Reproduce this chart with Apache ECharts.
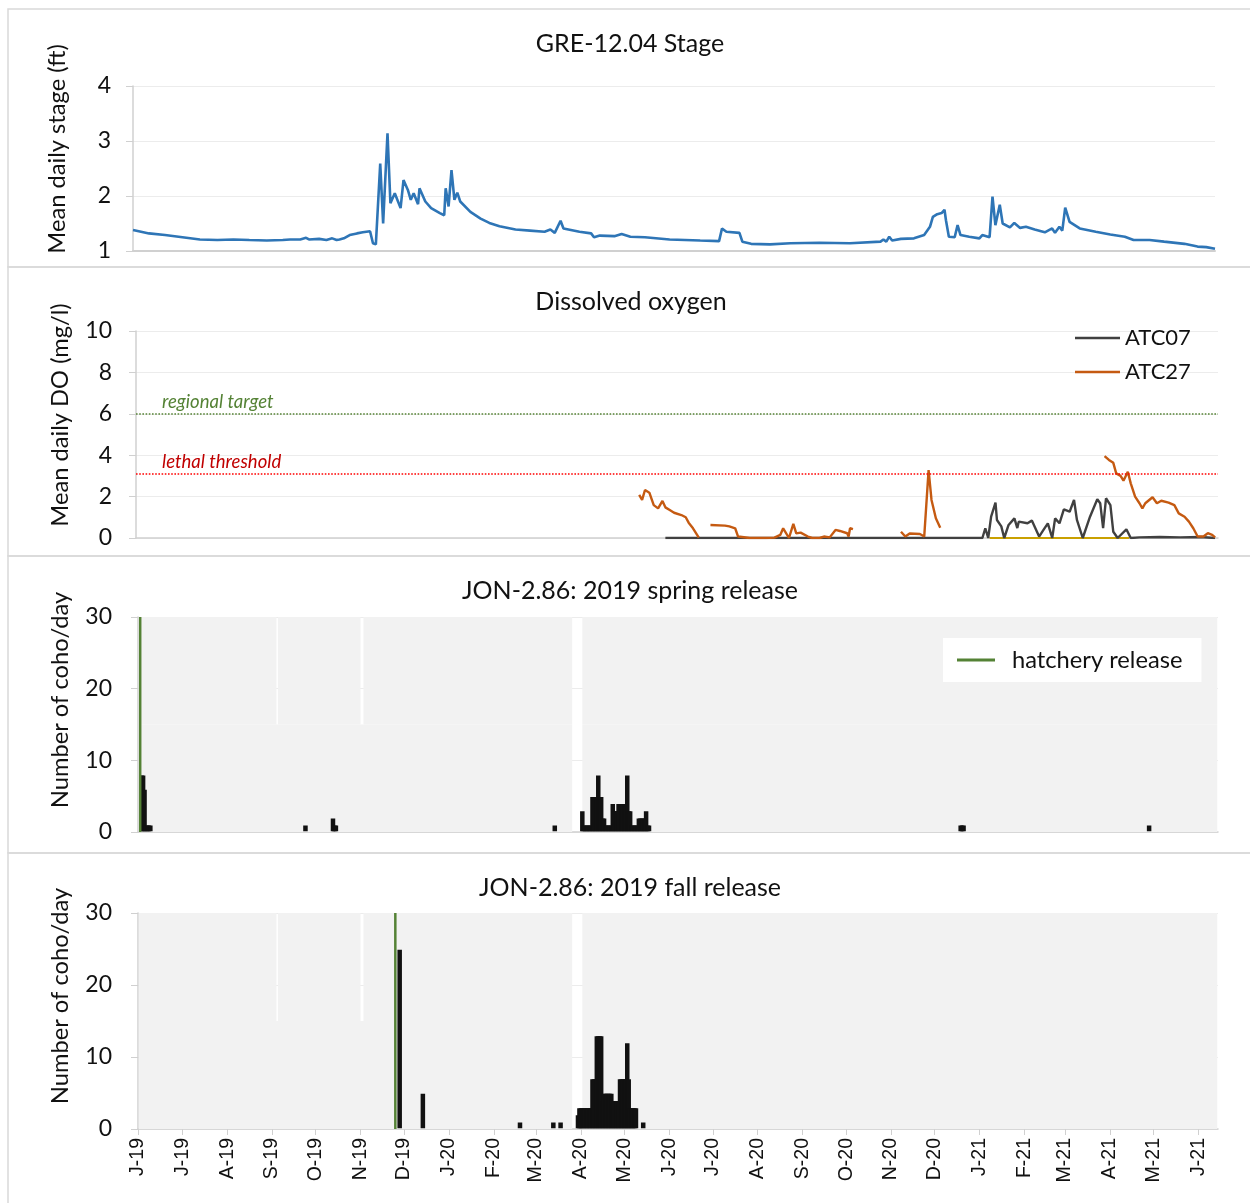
<!DOCTYPE html>
<html>
<head>
<meta charset="utf-8">
<script src="https://cdn.jsdelivr.net/npm/echarts@6/dist/echarts.min.js"></script>
<style>
  html, body { margin: 0; padding: 0; background: #ffffff; }
  #chart { width: 1250px; height: 1203px; }
</style>
</head>
<body>
<div id="chart"></div>
<script>
// Shared date range of all four panels
const X_MIN = '2019-06-01';
const X_MAX = '2021-06-14';
const monthLetters = ['J', 'F', 'M', 'A', 'M', 'J', 'J', 'A', 'S', 'O', 'N', 'D'];

// GRE-12.04 mean daily stage (ft)
const stage = [
  ['2019-06-01', 1.38], ['2019-06-12', 1.32], ['2019-06-23', 1.29], ['2019-07-05', 1.25], ['2019-07-17', 1.21],
  ['2019-07-29', 1.20], ['2019-08-09', 1.21], ['2019-08-20', 1.20], ['2019-09-01', 1.19], ['2019-09-12', 1.20],
  ['2019-09-17', 1.21], ['2019-09-24', 1.21], ['2019-09-28', 1.24], ['2019-09-30', 1.21], ['2019-10-07', 1.22],
  ['2019-10-12', 1.20], ['2019-10-16', 1.23], ['2019-10-19', 1.20], ['2019-10-21', 1.21], ['2019-10-24', 1.23],
  ['2019-10-28', 1.29], ['2019-11-02', 1.32], ['2019-11-06', 1.34], ['2019-11-11', 1.36], ['2019-11-13', 1.14],
  ['2019-11-15', 1.12], ['2019-11-18', 2.59], ['2019-11-20', 1.50], ['2019-11-21', 1.47], ['2019-11-23', 3.14],
  ['2019-11-25', 1.87], ['2019-11-28', 2.05], ['2019-12-02', 1.78], ['2019-12-04', 2.29], ['2019-12-07', 2.11],
  ['2019-12-09', 1.93], ['2019-12-11', 2.05], ['2019-12-14', 1.85], ['2019-12-15', 2.14], ['2019-12-19', 1.90],
  ['2019-12-23', 1.78], ['2019-12-29', 1.69], ['2020-01-01', 1.65], ['2020-01-02', 2.14], ['2020-01-04', 1.81],
  ['2020-01-06', 2.47], ['2020-01-08', 1.93], ['2020-01-10', 2.06], ['2020-01-12', 1.90], ['2020-01-19', 1.71],
  ['2020-01-26', 1.59], ['2020-02-01', 1.51], ['2020-02-08', 1.45], ['2020-02-19', 1.39], ['2020-02-29', 1.37],
  ['2020-03-10', 1.35], ['2020-03-14', 1.39], ['2020-03-17', 1.33], ['2020-03-21', 1.55], ['2020-03-23', 1.41],
  ['2020-04-03', 1.35], ['2020-04-11', 1.32], ['2020-04-13', 1.25], ['2020-04-17', 1.28], ['2020-04-27', 1.27],
  ['2020-05-02', 1.31], ['2020-05-08', 1.26], ['2020-05-18', 1.25], ['2020-06-04', 1.21], ['2020-06-25', 1.19],
  ['2020-07-08', 1.18], ['2020-07-10', 1.41], ['2020-07-13', 1.35], ['2020-07-22', 1.33], ['2020-07-24', 1.17],
  ['2020-07-30', 1.13], ['2020-08-12', 1.12], ['2020-08-26', 1.14], ['2020-09-15', 1.15], ['2020-10-06', 1.14],
  ['2020-10-27', 1.17], ['2020-10-29', 1.21], ['2020-10-31', 1.17], ['2020-11-02', 1.26], ['2020-11-04', 1.19],
  ['2020-11-10', 1.22], ['2020-11-19', 1.23], ['2020-11-26', 1.29], ['2020-11-30', 1.44], ['2020-12-02', 1.62],
  ['2020-12-05', 1.67], ['2020-12-08', 1.69], ['2020-12-10', 1.75], ['2020-12-11', 1.56], ['2020-12-13', 1.26],
  ['2020-12-17', 1.25], ['2020-12-19', 1.47], ['2020-12-21', 1.29], ['2020-12-27', 1.26], ['2021-01-03', 1.23],
  ['2021-01-05', 1.29], ['2021-01-10', 1.25], ['2021-01-12', 1.99], ['2021-01-14', 1.47], ['2021-01-17', 1.84],
  ['2021-01-19', 1.50], ['2021-01-24', 1.43], ['2021-01-27', 1.51], ['2021-01-31', 1.42], ['2021-02-04', 1.44],
  ['2021-02-10', 1.39], ['2021-02-17', 1.34], ['2021-02-22', 1.41], ['2021-02-24', 1.33], ['2021-02-27', 1.44],
  ['2021-03-01', 1.37], ['2021-03-03', 1.79], ['2021-03-06', 1.53], ['2021-03-13', 1.41], ['2021-03-24', 1.35],
  ['2021-04-03', 1.30], ['2021-04-13', 1.26], ['2021-04-19', 1.20], ['2021-04-30', 1.20], ['2021-05-10', 1.17],
  ['2021-05-24', 1.13], ['2021-06-02', 1.08], ['2021-06-08', 1.07], ['2021-06-14', 1.04]
];

// Dissolved oxygen, mean daily (mg/l); null marks a gap in the record
const atc07 = [
  ['2020-05-30', 0], ['2021-01-03', 0], ['2021-01-05', 0.47], ['2021-01-07', 0], ['2021-01-09', 1.03],
  ['2021-01-12', 1.71], ['2021-01-13', 0.87], ['2021-01-16', 0.56], ['2021-01-18', 0], ['2021-01-21', 0.63],
  ['2021-01-25', 0.95], ['2021-01-27', 0.48], ['2021-01-28', 0.79], ['2021-02-03', 0.71], ['2021-02-06', 0.84],
  ['2021-02-11', 0.07], ['2021-02-14', 0.39], ['2021-02-17', 0.71], ['2021-02-20', 0], ['2021-02-22', 0.95],
  ['2021-02-25', 0.71], ['2021-02-28', 1.38], ['2021-03-04', 1.27], ['2021-03-07', 1.84], ['2021-03-09', 0.87],
  ['2021-03-13', 0], ['2021-03-18', 1.03], ['2021-03-23', 1.87], ['2021-03-25', 1.68], ['2021-03-27', 0.48],
  ['2021-03-29', 1.92], ['2021-04-01', 1.59], ['2021-04-03', 0.30], ['2021-04-06', 0], ['2021-04-12', 0.42],
  ['2021-04-15', 0], ['2021-04-21', 0.03], ['2021-05-05', 0.05], ['2021-05-19', 0.03], ['2021-06-02', 0.05],
  ['2021-06-12', 0]
];
const atc27 = [
  ['2020-05-12', 2.08], ['2020-05-14', 1.84], ['2020-05-16', 2.32], ['2020-05-19', 2.19], ['2020-05-22', 1.59],
  ['2020-05-25', 1.43], ['2020-05-28', 1.79], ['2020-05-30', 1.48], ['2020-06-02', 1.35], ['2020-06-05', 1.22],
  ['2020-06-10', 1.11], ['2020-06-13', 1.00], ['2020-06-15', 0.74], ['2020-06-18', 0.47], ['2020-06-22', 0.02],
  ['2020-06-26', null],
  ['2020-06-30', 0.63], ['2020-07-10', 0.60], ['2020-07-13', 0.56], ['2020-07-17', 0.47], ['2020-07-19', 0.07],
  ['2020-07-27', 0], ['2020-08-07', 0], ['2020-08-13', 0.02], ['2020-08-17', 0.15], ['2020-08-19', 0.47],
  ['2020-08-23', 0], ['2020-08-26', 0.68], ['2020-08-28', 0.22], ['2020-08-31', 0.26], ['2020-09-05', 0.07],
  ['2020-09-08', 0], ['2020-09-13', 0], ['2020-09-16', 0.07], ['2020-09-20', 0.03], ['2020-09-24', 0.39],
  ['2020-09-27', 0.34], ['2020-10-02', 0.23], ['2020-10-03', 0.07], ['2020-10-04', 0.47], ['2020-10-06', 0.43],
  ['2020-10-20', null],
  ['2020-11-08', 0.30], ['2020-11-11', 0.07], ['2020-11-14', 0.22], ['2020-11-21', 0.19], ['2020-11-24', 0.07],
  ['2020-11-25', 0], ['2020-11-27', 3.28], ['2020-11-29', 1.84], ['2020-11-30', 1.92], ['2020-12-02', 0.95],
  ['2020-12-05', 0.50],
  ['2021-01-01', null],
  ['2021-03-28', 3.96], ['2021-03-31', 3.77], ['2021-04-03', 3.63], ['2021-04-05', 3.12], ['2021-04-08', 3.00],
  ['2021-04-10', 2.77], ['2021-04-13', 3.20], ['2021-04-15', 2.64], ['2021-04-18', 2.00], ['2021-04-21', 1.68],
  ['2021-04-23', 1.43], ['2021-04-25', 1.68], ['2021-04-30', 1.97], ['2021-05-03', 1.68], ['2021-05-06', 1.80],
  ['2021-05-11', 1.71], ['2021-05-15', 1.59], ['2021-05-18', 1.19], ['2021-05-22', 1.03], ['2021-05-25', 0.79],
  ['2021-05-28', 0.47], ['2021-05-31', 0.07], ['2021-06-04', 0.07], ['2021-06-07', 0.23], ['2021-06-10', 0.15],
  ['2021-06-12', 0.03]
];
// third logger, flat at zero, drawn beneath ATC07
const atcOther = [['2021-01-08', 0], ['2021-04-14', 0]];

// DO reference levels (mg/l)
const regionalTarget = 6;
const lethalThreshold = 3.1;

// Hatchery release dates
const springRelease = '2019-06-02';
const fallRelease = '2019-11-25';

// Daily coho counts at JON-2.86
const springCoho = [
  ['2019-06-03', 8], ['2019-06-04', 8], ['2019-06-05', 6], ['2019-06-06', 1], ['2019-06-07', 1],
  ['2019-06-08', 1], ['2019-06-09', 1],
  ['2019-09-24', 1],
  ['2019-10-13', 2], ['2019-10-14', 1], ['2019-10-15', 1],
  ['2020-03-14', 1],
  ['2020-04-02', 3], ['2020-04-03', 1], ['2020-04-04', 1], ['2020-04-05', 1], ['2020-04-06', 1],
  ['2020-04-07', 1], ['2020-04-08', 1], ['2020-04-09', 5], ['2020-04-10', 5], ['2020-04-11', 5],
  ['2020-04-12', 5], ['2020-04-13', 8], ['2020-04-14', 5], ['2020-04-15', 5], ['2020-04-16', 2],
  ['2020-04-17', 2], ['2020-04-18', 1], ['2020-04-19', 1], ['2020-04-20', 1], ['2020-04-21', 1],
  ['2020-04-22', 1], ['2020-04-23', 4], ['2020-04-24', 3], ['2020-04-25', 3], ['2020-04-26', 3],
  ['2020-04-27', 4], ['2020-04-28', 4], ['2020-04-29', 4], ['2020-04-30', 4], ['2020-05-01', 4],
  ['2020-05-02', 4], ['2020-05-03', 8], ['2020-05-04', 3], ['2020-05-05', 3], ['2020-05-06', 1],
  ['2020-05-07', 1], ['2020-05-08', 1], ['2020-05-09', 1], ['2020-05-10', 1], ['2020-05-11', 2],
  ['2020-05-12', 2], ['2020-05-13', 2], ['2020-05-14', 2], ['2020-05-15', 2], ['2020-05-16', 3],
  ['2020-05-17', 1], ['2020-05-18', 1],
  ['2020-12-19', 1], ['2020-12-20', 1], ['2020-12-21', 1],
  ['2021-04-28', 1]
];
const fallCoho = [
  ['2019-11-28', 25],
  ['2019-12-14', 5],
  ['2020-02-19', 1],
  ['2020-03-13', 1], ['2020-03-18', 1],
  ['2020-03-30', 2], ['2020-03-31', 3], ['2020-04-01', 3], ['2020-04-02', 3], ['2020-04-03', 3],
  ['2020-04-04', 3], ['2020-04-05', 3], ['2020-04-06', 3], ['2020-04-07', 3], ['2020-04-08', 3],
  ['2020-04-09', 7], ['2020-04-10', 7], ['2020-04-11', 7], ['2020-04-12', 13], ['2020-04-13', 13],
  ['2020-04-14', 13], ['2020-04-15', 13], ['2020-04-16', 4], ['2020-04-17', 5], ['2020-04-18', 5],
  ['2020-04-19', 5], ['2020-04-20', 5], ['2020-04-21', 5], ['2020-04-22', 5], ['2020-04-23', 4],
  ['2020-04-24', 4], ['2020-04-25', 4], ['2020-04-26', 4], ['2020-04-27', 4], ['2020-04-28', 7],
  ['2020-04-29', 7], ['2020-04-30', 7], ['2020-05-01', 7], ['2020-05-02', 7], ['2020-05-03', 12],
  ['2020-05-04', 7], ['2020-05-05', 3], ['2020-05-06', 3], ['2020-05-07', 3], ['2020-05-08', 3],
  ['2020-05-09', 3],
  ['2020-05-14', 1]
];

// Periods when the two antenna arrays were running (lower and upper halves of the shading)
const trapLower = [['2019-06-01', '2020-03-26'], ['2020-04-02', '2021-06-14']];
const trapUpper = [['2019-06-01', '2019-09-04'], ['2019-09-05', '2019-11-01'],
                   ['2019-11-03', '2020-03-26'], ['2020-04-02', '2021-06-14']];

// ---------------------------------------------------------------------------
const FONT = 'Lato, "Noto Sans", sans-serif';
const INK = '#111111';
const AXIS_GREY = '#d0d0d0';
const HALF_DAY = 12 * 3600 * 1000;
const minParts = X_MIN.split('-').map(Number);
const X_MIN_TS = new Date(minParts[0], minParts[1] - 1, minParts[2]).getTime();

const trapRows = trapLower.map(p => [p[0], p[1], 0, 15])
  .concat(trapUpper.map(p => [p[0], p[1], 15, 30]));

function renderTrap(params, api) {
  const a = api.coord([api.value(0), api.value(3)]);
  const b = api.coord([api.value(1), api.value(2)]);
  return {
    type: 'rect',
    shape: { x: a[0], y: a[1], width: b[0] - a[0], height: b[1] - a[1] },
    style: { fill: '#f2f2f2' }
  };
}

// month initial + two-digit year, e.g. "J-19"; the first tick is held to the axis start
function monthLabel(v) {
  const d = new Date(Math.max(v, X_MIN_TS) + HALF_DAY);
  return monthLetters[d.getMonth()] + '-' + String(d.getFullYear()).slice(2);
}

const grids = [
  { left: 133, top: 86, width: 1082, height: 165 },
  { left: 136, top: 331, width: 1082, height: 207 },
  { left: 138, top: 617, width: 1080, height: 215 },
  { left: 138, top: 913, width: 1080, height: 216 }
];

function xAxisFor(i) {
  const last = i === 3;
  return {
    type: 'time', gridIndex: i, min: X_MIN, max: X_MAX,
    splitNumber: 25, minInterval: 28 * 86400000, maxInterval: 31 * 86400000,
    axisLine: { show: true, lineStyle: { color: AXIS_GREY, width: i === 0 ? 2 : 1.5 } },
    axisTick: { show: last, length: 6, lineStyle: { color: AXIS_GREY } },
    axisLabel: {
      show: last, rotate: 90, margin: 9, formatter: monthLabel,
      fontFamily: '"Liberation Sans", Arial, sans-serif', fontSize: 19.5, color: INK,
      showMinLabel: true, showMaxLabel: false
    },
    splitLine: { show: false }
  };
}

function yAxisFor(i, min, max, interval, margin) {
  return {
    type: 'value', gridIndex: i, min: min, max: max, interval: interval,
    axisLine: { show: true, lineStyle: { color: AXIS_GREY, width: 1.5 } },
    axisTick: { show: true, length: 7, lineStyle: { color: AXIS_GREY } },
    axisLabel: { margin: margin, fontFamily: FONT, fontSize: 23, color: INK },
    splitLine: { show: true, lineStyle: { color: '#ececec', width: 1.2 } }
  };
}

function boxRect(y, h) {
  return { type: 'rect', z: -10, shape: { x: 8, y: y, width: 1262, height: h },
           style: { fill: 'none', stroke: '#d9d9d9', lineWidth: 1.5 } };
}
function titleText(x, y, text) {
  return { type: 'text', x: x, y: y,
           style: { text: text, fontFamily: FONT, fontSize: 25, fill: INK, align: 'center', verticalAlign: 'middle' } };
}
function yName(x, y, text) {
  return { type: 'text', x: x, y: y, rotation: Math.PI / 2,
           style: { text: text, fontFamily: FONT, fontSize: 23.7, fill: INK, align: 'center', verticalAlign: 'middle' } };
}

function refLine(value, name, lineColor, textColor) {
  return {
    yAxis: value, name: name,
    lineStyle: { color: lineColor, type: 'dotted', width: 1.6 },
    label: {
      show: true, formatter: '{b}', position: 'insideStartTop', distance: 2,
      padding: [0, 0, 0, 24], color: textColor, fontStyle: 'italic', fontFamily: FONT, fontSize: 18.5
    }
  };
}

const option = {
  animation: false,
  backgroundColor: '#ffffff',
  grid: grids,
  xAxis: [0, 1, 2, 3].map(xAxisFor),
  yAxis: [
    yAxisFor(0, 1, 4, 1, 22),
    yAxisFor(1, 0, 10, 2, 24),
    yAxisFor(2, 0, 30, 10, 26),
    yAxisFor(3, 0, 30, 10, 26)
  ],
  legend: [
    {
      data: ['ATC07', 'ATC27'], orient: 'vertical', left: 1070, top: 322,
      icon: 'rect', itemWidth: 45, itemHeight: 2.5, itemGap: 12, selectedMode: false,
      textStyle: { fontFamily: FONT, fontSize: 22, color: INK }
    },
    {
      data: ['hatchery release'], left: 943, top: 638, backgroundColor: '#ffffff',
      padding: [10, 19, 10, 14], icon: 'rect', itemWidth: 38, itemHeight: 3, selectedMode: false,
      textStyle: { fontFamily: FONT, fontSize: 23.7, color: INK, padding: [0, 0, 0, 12] }
    }
  ],
  graphic: [
    boxRect(9, 258), boxRect(267, 289), boxRect(556, 297), boxRect(853, 360),
    titleText(630, 44, 'GRE-12.04 Stage'),
    titleText(631, 302, 'Dissolved oxygen'),
    titleText(630, 591, 'JON-2.86: 2019 spring release'),
    titleText(630, 888, 'JON-2.86: 2019 fall release'),
    yName(57, 149, 'Mean daily stage (ft)'),
    yName(60, 415, 'Mean daily DO (mg/l)'),
    yName(60, 700, 'Number of coho/day'),
    yName(60, 996, 'Number of coho/day')
  ],
  series: [
    {
      name: 'Stage', type: 'line', xAxisIndex: 0, yAxisIndex: 0, data: stage,
      symbol: 'none', lineStyle: { color: '#2e75b6', width: 2.6 }, itemStyle: { color: '#2e75b6' }
    },
    {
      name: 'other logger', type: 'line', xAxisIndex: 1, yAxisIndex: 1, data: atcOther,
      symbol: 'none', lineStyle: { color: '#c9a000', width: 2 }, z: 2
    },
    {
      name: 'ATC07', type: 'line', xAxisIndex: 1, yAxisIndex: 1, data: atc07,
      symbol: 'none', connectNulls: false, z: 3,
      lineStyle: { color: '#404040', width: 2.4 }, itemStyle: { color: '#404040' }
    },
    {
      name: 'ATC27', type: 'line', xAxisIndex: 1, yAxisIndex: 1, data: atc27,
      symbol: 'none', connectNulls: false, z: 4,
      lineStyle: { color: '#c55a11', width: 2.4 }, itemStyle: { color: '#c55a11' },
      markLine: {
        silent: true, symbol: 'none',
        data: [
          refLine(regionalTarget, 'regional target', '#548235', '#548235'),
          refLine(lethalThreshold, 'lethal threshold', '#ff0000', '#c00000')
        ]
      }
    },
    {
      name: 'spring trap', type: 'custom', xAxisIndex: 2, yAxisIndex: 2, z: 1, silent: true,
      dimensions: [{ name: 'start', type: 'time' }, { name: 'end', type: 'time' }, 'low', 'high'],
      encode: { x: [0, 1], y: [2, 3] }, data: trapRows, renderItem: renderTrap
    },
    {
      name: 'spring coho', type: 'bar', xAxisIndex: 2, yAxisIndex: 2, z: 2, data: springCoho,
      barWidth: 1.5, itemStyle: { color: INK, borderColor: INK, borderWidth: 4.5 }
    },
    {
      name: 'hatchery release', type: 'line', xAxisIndex: 2, yAxisIndex: 2, z: 5,
      data: [[springRelease, 0], [springRelease, 30]], symbol: 'none',
      lineStyle: { color: '#548235', width: 2.5 }, itemStyle: { color: '#548235' }
    },
    {
      name: 'fall trap', type: 'custom', xAxisIndex: 3, yAxisIndex: 3, z: 1, silent: true,
      dimensions: [{ name: 'start', type: 'time' }, { name: 'end', type: 'time' }, 'low', 'high'],
      encode: { x: [0, 1], y: [2, 3] }, data: trapRows, renderItem: renderTrap
    },
    {
      name: 'fall coho', type: 'bar', xAxisIndex: 3, yAxisIndex: 3, z: 2, data: fallCoho,
      barWidth: 1.5, itemStyle: { color: INK, borderColor: INK, borderWidth: 4.5 }
    },
    {
      name: 'hatchery release', type: 'line', xAxisIndex: 3, yAxisIndex: 3, z: 5,
      data: [[fallRelease, 0], [fallRelease, 30]], symbol: 'none',
      lineStyle: { color: '#548235', width: 2.5 }, itemStyle: { color: '#548235' }
    }
  ]
};

const chart = echarts.init(document.getElementById('chart'));
chart.setOption(option);
</script>
</body>
</html>
